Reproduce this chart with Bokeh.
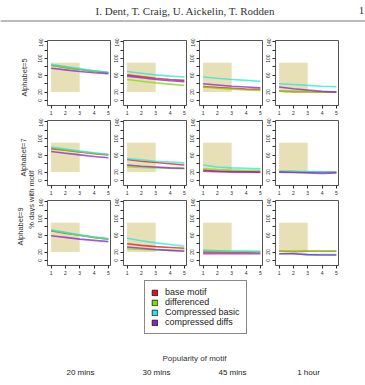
import math
from bokeh.plotting import figure
from bokeh.layouts import column, row
from bokeh.models import Range1d, FixedTicker, Label, Legend, LegendItem, Span
from bokeh.embed import file_html
from bokeh.resources import INLINE

# ---- text ----
header_text = "I. Dent, T. Craig, U. Aickelin, T. Rodden"
page_number = "1"
popularity = ["20 mins", "30 mins", "45 mins", "1 hour"]
alphabet_labels = ["Alphabet=5", "Alphabet=7", "Alphabet=9"]
y_title = "% days with motif"
x_title = "Popularity of motif"

# ---- axes ----
x_steps = [1, 2, 3, 4, 5]
y_ticks = [0, 20, 40, 60, 80, 100, 120, 140]
y_hidden_labels = [40, 80, 120]

# highlighted target region (x from 1 to 3, y from 20 to 90)
region_x = [1, 3]
region_y = [20, 90]

series_names = ["base motif", "differenced", "Compressed basic", "compressed diffs"]
series_colors = ["#e0141e", "#7be000", "#22e8e0", "#8a1ed0"]

# ---- values: one list per popularity level (20 mins, 30 mins, 45 mins, 1 hour) ----
base_motif_a5 = [[84, 79, 74, 70, 66], [61, 57, 53, 50, 48], [33, 31, 29, 27, 26], [22, 21, 21, 20, 20]]
differenced_a5 = [[84, 79, 74, 69, 66], [50, 46, 42, 39, 36], [32, 29, 27, 25, 24], [22, 21, 21, 20, 20]]
comp_basic_a5 = [[86, 81, 76, 71, 67], [69, 65, 61, 58, 56], [56, 53, 50, 48, 46], [40, 38, 36, 34, 33]]
comp_diffs_a5 = [[77, 73, 69, 66, 64], [58, 54, 50, 47, 45], [40, 37, 34, 32, 30], [32, 28, 25, 22, 20]]

base_motif_a7 = [[76, 72, 68, 64, 61], [50, 46, 43, 40, 37], [25, 22, 22, 21, 20], [21, 21, 20, 20, 20]]
differenced_a7 = [[78, 73, 69, 65, 62], [33, 31, 30, 29, 28], [28, 26, 25, 24, 24], [21, 20, 20, 19, 19]]
comp_basic_a7 = [[80, 75, 70, 66, 62], [52, 49, 46, 44, 42], [37, 32, 30, 29, 28], [22, 21, 21, 20, 20]]
comp_diffs_a7 = [[69, 65, 61, 57, 54], [37, 34, 32, 30, 29], [22, 21, 20, 20, 20], [20, 19, 18, 17, 18]]

base_motif_a9 = [[71, 65, 60, 55, 51], [40, 36, 33, 31, 29], [20, 20, 20, 20, 20], [22, 21, 22, 22, 22]]
differenced_a9 = [[72, 66, 60, 55, 51], [28, 26, 25, 24, 24], [24, 23, 22, 22, 21], [22, 22, 22, 22, 22]]
comp_basic_a9 = [[73, 67, 61, 56, 52], [53, 47, 42, 38, 34], [24, 23, 22, 22, 21], [16, 16, 14, 14, 14]]
comp_diffs_a9 = [[59, 55, 51, 48, 45], [32, 29, 26, 24, 22], [16, 16, 16, 16, 16], [16, 16, 14, 13, 13]]

rows_data = [
    [base_motif_a5, differenced_a5, comp_basic_a5, comp_diffs_a5],
    [base_motif_a7, differenced_a7, comp_basic_a7, comp_diffs_a7],
    [base_motif_a9, differenced_a9, comp_basic_a9, comp_diffs_a9],
]

SANS = "Liberation Sans"
SERIF = "Liberation Serif"
INK = "#2a2a2a"
KHAKI = "#e7e0b6"


def plain(fig):
    fig.axis.visible = False
    fig.grid.visible = False
    fig.outline_line_color = None
    fig.min_border = 0
    return fig


# ---- header strip ----
head = plain(figure(width=365, height=38, x_range=Range1d(0, 365), y_range=Range1d(38, 0),
                    output_backend="svg", toolbar_location=None))
head.add_layout(Label(x=185, y=10, text=header_text, text_font=SERIF, text_font_size="11px",
                      text_align="center", text_baseline="middle", text_color="#333333"))
head.add_layout(Label(x=361, y=10, text=page_number, text_font=SERIF, text_font_size="11px",
                      text_align="center", text_baseline="middle", text_color="#333333"))
head.add_layout(Span(location=20.5, dimension="width", line_color="#555555", line_width=0.8))

# ---- left strip with row titles ----
left = plain(figure(width=35, height=240, x_range=Range1d(0, 35), y_range=Range1d(240, 0),
                    output_backend="svg", toolbar_location=None))
row_title_pos = [(24, 39), (23, 119), (20, 188)]
for (lx, ly), lab in zip(row_title_pos, alphabet_labels):
    left.add_layout(Label(x=lx, y=ly, text=lab, angle=math.pi / 2, text_font=SANS,
                          text_font_size="7.5px", text_align="center", text_baseline="middle",
                          text_color="#333333"))
left.add_layout(Label(x=31, y=161, text=y_title, angle=math.pi / 2, text_font=SANS,
                      text_font_size="7.5px", text_align="center", text_baseline="middle",
                      text_color="#333333"))


# ---- small multiples ----
def panel(series_set, col):
    p = figure(width=76, height=80, x_range=Range1d(0.75, 5.15), y_range=Range1d(-12, 143),
               output_backend="svg", toolbar_location=None,
               min_border_left=12, min_border_right=1, min_border_top=2, min_border_bottom=13)
    p.grid.visible = False
    p.outline_line_color = INK
    p.outline_line_width = 0.8
    p.quad(left=region_x[0], right=region_x[1], bottom=region_y[0], top=region_y[1],
           fill_color=KHAKI, line_color=None)
    for values, color in zip(series_set, series_colors):
        p.line(x_steps, values[col], line_color=color, line_width=1.6, line_alpha=0.75)
    for ax in (p.xaxis[0], p.yaxis[0]):
        ax.axis_line_color = None
        ax.major_tick_in = 0
        ax.major_tick_out = 3
        ax.major_tick_line_color = INK
        ax.minor_tick_line_color = None
        ax.major_label_text_font = SANS
        ax.major_label_text_font_size = "5px"
        ax.major_label_text_color = INK
        ax.major_label_standoff = 2
    p.xaxis[0].ticker = FixedTicker(ticks=x_steps)
    p.yaxis[0].ticker = FixedTicker(ticks=y_ticks)
    p.yaxis[0].major_label_orientation = "vertical"
    p.yaxis[0].major_label_overrides = {t: "" for t in y_hidden_labels}
    return p


panel_rows = [row(*[panel(rows_data[r], c) for c in range(4)]) for r in range(3)]
middle = row(left, column(*panel_rows))

# ---- bottom strip: legend and axis titles ----
bottom = plain(figure(width=365, height=107, x_range=Range1d(0, 365), y_range=Range1d(107, 0),
                      output_backend="svg", toolbar_location=None))
items = []
nan = float("nan")
for name, color in zip(series_names, series_colors):
    # legend-only swatch: one undrawable (NaN) quad so the legend has a glyph to show
    r = bottom.quad(left=[nan], right=[nan], bottom=[nan], top=[nan], fill_color=color,
                    line_color="#111111", line_width=0.8)
    items.append(LegendItem(label=name, renderers=[r]))
legend = Legend(items=items, location=(144, 51), border_line_color="#111111", border_line_width=1,
                background_fill_color="white", background_fill_alpha=1, padding=6, spacing=0,
                margin=0, glyph_width=7, glyph_height=7, label_height=10, label_standoff=7,
                label_text_font=SANS, label_text_font_size="9px", label_text_color="#222222")
bottom.add_layout(legend, "center")
bottom.add_layout(Label(x=194, y=80, text=x_title, text_font=SANS, text_font_size="8px",
                        text_align="center", text_baseline="middle", text_color="#333333"))
col_centres = [80, 156, 232, 308]
for cx, lab in zip(col_centres, popularity):
    bottom.add_layout(Label(x=cx, y=94, text=lab, text_font=SANS, text_font_size="8px",
                            text_align="center", text_baseline="middle", text_color="#222222"))

page = column(head, middle, bottom)
open("out.html", "w").write(file_html(page, INLINE))
